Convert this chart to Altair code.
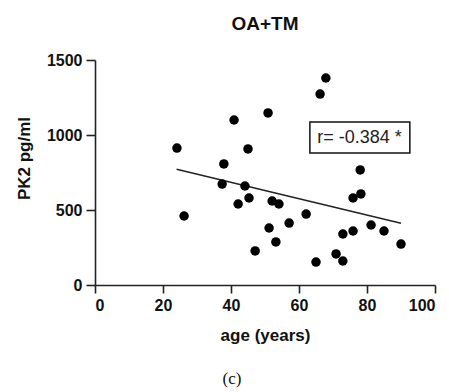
import altair as alt
import pandas as pd

age = [24.1, 26.2, 37.4, 37.9, 40.9, 42.1, 44.1, 45.0, 45.3, 47.1,
       50.9, 51.2, 52.1, 53.2, 54.1, 57.1, 62.1, 65.0, 66.2, 67.9,
       70.9, 72.9, 72.9, 75.9, 75.9, 78.0, 78.2, 81.2, 85.0, 90.0]
pk2 = [913, 460, 673, 807, 1100, 540, 660, 907, 580, 227,
       1147, 380, 560, 287, 540, 413, 473, 153, 1273, 1380,
       207, 160, 340, 360, 580, 767, 607, 400, 360, 273]

fit_age = [24, 90]
fit_pk2 = [772, 411]

box_x = [63.2]
box_x2 = [92.6]
box_y = [1087]
box_y2 = [880]
label_x = [77.8]
label_y = [983]
label_text = ["r= -0.384 *"]

pts = pd.DataFrame({"age": age, "pk2": pk2})
fit = pd.DataFrame({"age": fit_age, "pk2": fit_pk2})
box = pd.DataFrame({"x": box_x, "x2": box_x2, "y": box_y, "y2": box_y2})
lab = pd.DataFrame({"x": label_x, "y": label_y, "t": label_text})

FONT = "Liberation Sans"
AX = "#222222"

xscale = alt.Scale(domain=[0, 100], nice=False, zero=False)
yscale = alt.Scale(domain=[0, 1500], nice=False)

xaxis = alt.Axis(values=[0, 20, 40, 60, 80, 100], title="age (years)", grid=False, format="d",
                 labelFont=FONT, labelFontSize=16, labelFontWeight="bold", labelColor="#111",
                 titleFont=FONT, titleFontSize=17, titleFontWeight="bold", titleColor="#111",
                 domainColor=AX, domainWidth=1.6, tickColor=AX, tickWidth=1.6, tickSize=8,
                 labelPadding=4, titleY=50, titleBaseline="middle")
yaxis = alt.Axis(values=[0, 500, 1000, 1500], title="PK2 pg/ml", grid=False, format="d",
                 labelFont=FONT, labelFontSize=16, labelFontWeight="bold", labelColor="#111",
                 titleFont=FONT, titleFontSize=17, titleFontWeight="bold", titleColor="#111",
                 domainColor=AX, domainWidth=1.6, tickColor=AX, tickWidth=1.6, tickSize=9,
                 labelPadding=4, titleX=-71, titleY=98, titleAngle=-90,
                 titleAlign="center", titleBaseline="middle")

points = alt.Chart(pts).mark_circle(size=90, color="black", opacity=1).encode(
    x=alt.X("age:Q", scale=xscale, axis=xaxis),
    y=alt.Y("pk2:Q", scale=yscale, axis=yaxis),
)

line = alt.Chart(fit).mark_line(color="#222", strokeWidth=1.5).encode(
    x=alt.X("age:Q", scale=xscale, axis=xaxis),
    y=alt.Y("pk2:Q", scale=yscale, axis=yaxis),
)

rect = alt.Chart(box).mark_rect(fill="white", stroke="#111", strokeWidth=1.5).encode(
    x=alt.X("x:Q", scale=xscale, axis=xaxis), x2="x2:Q",
    y=alt.Y("y:Q", scale=yscale, axis=yaxis), y2="y2:Q",
)

text = alt.Chart(lab).mark_text(font=FONT, fontSize=18, color="#222", baseline="middle").encode(
    x=alt.X("x:Q", scale=xscale, axis=xaxis),
    y=alt.Y("y:Q", scale=yscale, axis=yaxis),
    text="t:N",
)

title = alt.Chart(pd.DataFrame({"t": ["OA+TM"]})).mark_text(
    font=FONT, fontSize=19, fontWeight="bold", color="#111", baseline="alphabetic"
).encode(x=alt.value(170), y=alt.value(-30), text="t:N")

cap = alt.Chart(pd.DataFrame({"t": ["(c)"]})).mark_text(
    font="Liberation Serif", fontSize=17, color="#111", baseline="middle"
).encode(x=alt.value(137), y=alt.value(319), text="t:N")

chart = alt.layer(line, points, rect, text, title, cap).properties(
    width=340, height=225,
    background="white",
    autosize=alt.AutoSizeParams(type="none"),
    padding={"left": 87, "top": 52, "right": 6, "bottom": 106},
).configure_view(stroke=None)

chart.save("out.html", embed_options={"renderer": "svg", "actions": False})
